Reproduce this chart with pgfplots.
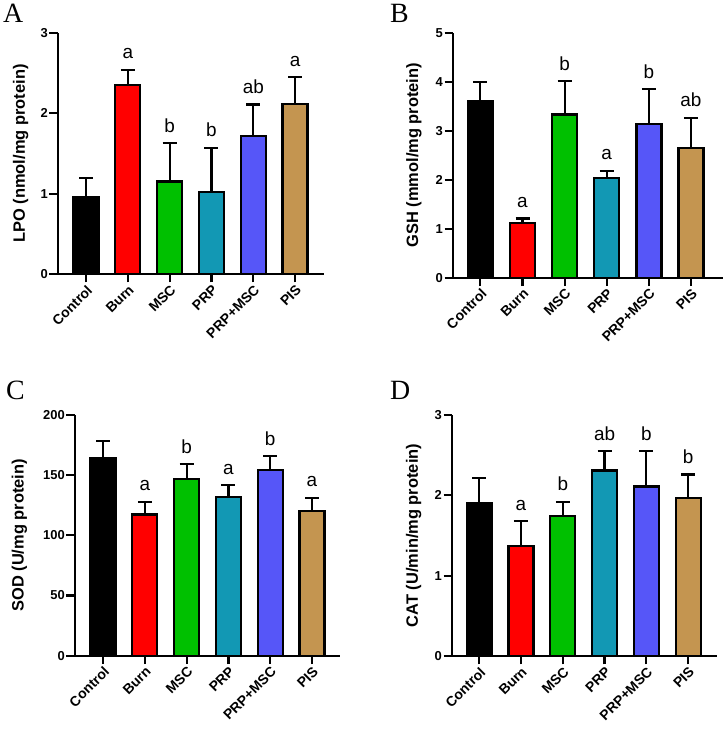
\documentclass[border=0pt]{standalone}
\usepackage{fontspec}
\setmainfont{Liberation Sans}
\newfontfamily\seriffont{Liberation Serif}
\usepackage{pgfplots}
\pgfplotsset{compat=1.18}
\definecolor{cBlack}{RGB}{0,0,0}
\definecolor{cRed}{RGB}{255,0,0}
\definecolor{cGreen}{RGB}{0,192,0}
\definecolor{cTeal}{RGB}{18,152,180}
\definecolor{cBlue}{RGB}{86,86,248}
\definecolor{cTan}{RGB}{196,149,80}
\newcommand\ytl{\fontsize{13}{13}\selectfont\bfseries}
\pgfplotsset{
  panel/.style={
    scale only axis,
    ybar, bar width=25bp,
    axis x line*=bottom, axis y line*=left,
    axis line style={line width=2.2bp,-},
    ymin=0,
    xtick={0,...,5},
    xticklabels={Control,Burn,MSC,PRP,PRP+MSC,PIS},
    x tick label style={rotate=45, anchor=north east, font=\fontsize{14}{14}\selectfont\bfseries, inner sep=1bp},
    /pgf/number format/assume math mode=true,
    yticklabel={\ytl\pgfmathprintnumber{\tick}},
    y tick label style={inner sep=1.5bp},
    tick align=outside, major tick length=8.5bp,
    tick style={line width=2.2bp, black},
    ylabel style={font=\fontsize{16.5}{17}\selectfont\bfseries, anchor=center},
    clip=false,
  },
  b/.style={fill=#1, draw=black, line width=2.3bp, bar shift=0pt,
    error bars/.cd, y dir=plus, y explicit,
    error bar style={line width=2.2bp, black},
    error mark options={rotate=90, line width=2.2bp, mark size=7bp, black}},
}
\tikzset{lt/.style={anchor=base, yshift=11bp, font=\fontsize{19}{19}\selectfont}}
\begin{document}
\begin{tikzpicture}
\useasboundingbox (0,0) rectangle (724bp,735bp);
\node[anchor=base west, inner sep=0, font=\seriffont\fontsize{28}{28}\selectfont] at (3bp,712bp) {A};
\node[anchor=base west, inner sep=0, font=\seriffont\fontsize{28}{28}\selectfont] at (390bp,712bp) {B};
\node[anchor=base west, inner sep=0, font=\seriffont\fontsize{28}{28}\selectfont] at (6bp,335bp) {C};
\node[anchor=base west, inner sep=0, font=\seriffont\fontsize{28}{28}\selectfont] at (390bp,335bp) {D};

% ---------- A ----------
\begin{axis}[panel, at={(58bp,461bp)}, anchor=south west,
  width=266bp, height=241bp, xmin=-0.67, xmax=5.69, ymax=3, ytick={0,1,2,3},
  ylabel={LPO (nmol/mg protein)}, ylabel style={at={(axis description cs:-0.14,0.5)}}]
\addplot[b=cBlack] coordinates {(0,0.96) +- (0,0.23)};
\addplot[b=cRed]   coordinates {(1,2.35) +- (0,0.19)};
\addplot[b=cGreen] coordinates {(2,1.15) +- (0,0.48)};
\addplot[b=cTeal]  coordinates {(3,1.02) +- (0,0.55)};
\addplot[b=cBlue]  coordinates {(4,1.72) +- (0,0.39)};
\addplot[b=cTan]   coordinates {(5,2.12) +- (0,0.33)};
\node[lt] at (axis cs:1,2.54) {a};
\node[lt] at (axis cs:2,1.63) {b};
\node[lt] at (axis cs:3,1.57) {b};
\node[lt] at (axis cs:4,2.11) {ab};
\node[lt] at (axis cs:5,2.45) {a};
\end{axis}

% ---------- B ----------
\begin{axis}[panel, at={(453bp,457.3bp)}, anchor=south west,
  width=270bp, height=245bp, xmin=-0.65, xmax=5.76, ymax=5, ytick={0,1,2,3,4,5},
  ylabel={GSH (mmol/mg protein)}, ylabel style={at={(axis description cs:-0.145,0.5)}}]
\addplot[b=cBlack] coordinates {(0,3.61) +- (0,0.39)};
\addplot[b=cRed]   coordinates {(1,1.11) +- (0,0.10)};
\addplot[b=cGreen] coordinates {(2,3.33) +- (0,0.68)};
\addplot[b=cTeal]  coordinates {(3,2.04) +- (0,0.14)};
\addplot[b=cBlue]  coordinates {(4,3.14) +- (0,0.71)};
\addplot[b=cTan]   coordinates {(5,2.65) +- (0,0.61)};
\node[lt] at (axis cs:1,1.21) {a};
\node[lt] at (axis cs:2,4.01) {b};
\node[lt] at (axis cs:3,2.18) {a};
\node[lt] at (axis cs:4,3.85) {b};
\node[lt] at (axis cs:5,3.26) {ab};
\end{axis}

% ---------- C ----------
\begin{axis}[panel, at={(75bp,79.3bp)}, anchor=south west,
  width=265bp, height=240.7bp, xmin=-0.67, xmax=5.67, ymax=200, ytick={0,50,100,150,200},
  ylabel={SOD (U/mg protein)}, ylabel style={at={(axis description cs:-0.21,0.5)}}]
\addplot[b=cBlack] coordinates {(0,164.3) +- (0,14.1)};
\addplot[b=cRed]   coordinates {(1,117.2) +- (0,10.8)};
\addplot[b=cGreen] coordinates {(2,146.8) +- (0,12.2)};
\addplot[b=cTeal]  coordinates {(3,131.6) +- (0,10.0)};
\addplot[b=cBlue]  coordinates {(4,154.3) +- (0,11.4)};
\addplot[b=cTan]   coordinates {(5,120.5) +- (0,10.8)};
\node[lt] at (axis cs:1,128) {a};
\node[lt] at (axis cs:2,159) {b};
\node[lt] at (axis cs:3,141.6) {a};
\node[lt] at (axis cs:4,165.7) {b};
\node[lt] at (axis cs:5,131.3) {a};
\end{axis}

% ---------- D ----------
\begin{axis}[panel, at={(452bp,79bp)}, anchor=south west,
  width=265bp, height=241bp, xmin=-0.65, xmax=5.69, ymax=3, ytick={0,1,2,3},
  ylabel={CAT (U/min/mg protein)}, ylabel style={at={(axis description cs:-0.145,0.5)}}]
\addplot[b=cBlack] coordinates {(0,1.90) +- (0,0.32)};
\addplot[b=cRed]   coordinates {(1,1.37) +- (0,0.31)};
\addplot[b=cGreen] coordinates {(2,1.74) +- (0,0.18)};
\addplot[b=cTeal]  coordinates {(3,2.31) +- (0,0.24)};
\addplot[b=cBlue]  coordinates {(4,2.11) +- (0,0.44)};
\addplot[b=cTan]   coordinates {(5,1.97) +- (0,0.29)};
\node[lt] at (axis cs:1,1.68) {a};
\node[lt] at (axis cs:2,1.92) {b};
\node[lt] at (axis cs:3,2.55) {ab};
\node[lt] at (axis cs:4,2.55) {b};
\node[lt] at (axis cs:5,2.26) {b};
\end{axis}
\end{tikzpicture}
\end{document}
